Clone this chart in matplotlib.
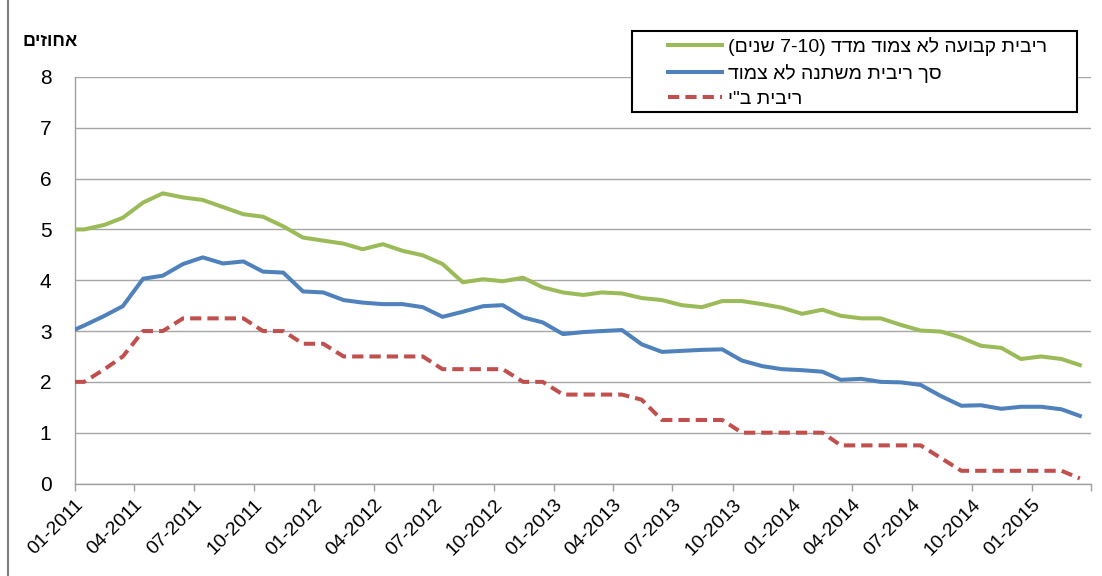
import re
import pandas as pd
import matplotlib
matplotlib.use("Agg")
import matplotlib.pyplot as plt
from matplotlib.patches import Rectangle
from matplotlib.lines import Line2D

plt.rcParams['font.family'] = ['Liberation Sans', 'DejaVu Sans']

# first value sits on 01-01-2011, the rest are monthly averages (mid-month)
dates = pd.to_datetime(['2011-01-01']).append(
    pd.date_range('2011-01-01', '2015-03-01', freq='MS') + pd.Timedelta(days=14))

fixed_rate = [5.00,
              5.00, 5.09, 5.23, 5.53, 5.71, 5.63, 5.58, 5.44, 5.30, 5.25,
              5.06, 4.84, 4.78, 4.72, 4.61, 4.71, 4.58, 4.49, 4.32, 3.96,
              4.02, 3.98, 4.05, 3.86, 3.76, 3.71, 3.76, 3.74, 3.65, 3.61,
              3.51, 3.47, 3.59, 3.59, 3.53, 3.46, 3.34, 3.42, 3.30, 3.25,
              3.25, 3.12, 3.01, 2.99, 2.87, 2.71, 2.67, 2.45, 2.50, 2.45,
              2.33]
variable_rate = [3.03,
                 3.11, 3.30, 3.49, 4.03, 4.09, 4.32, 4.45, 4.33, 4.37, 4.17,
                 4.15, 3.78, 3.76, 3.61, 3.56, 3.53, 3.53, 3.47, 3.28, 3.38,
                 3.49, 3.51, 3.27, 3.17, 2.94, 2.98, 3.00, 3.02, 2.74, 2.59,
                 2.61, 2.63, 2.64, 2.42, 2.31, 2.25, 2.23, 2.20, 2.04, 2.06,
                 2.00, 1.99, 1.94, 1.72, 1.53, 1.54, 1.47, 1.51, 1.51, 1.46,
                 1.33]
boi_rate = [2.00,
            2.00, 2.25, 2.50, 3.00, 3.00, 3.25, 3.25, 3.25, 3.25, 3.00,
            3.00, 2.75, 2.75, 2.50, 2.50, 2.50, 2.50, 2.50, 2.25, 2.25,
            2.25, 2.25, 2.00, 2.00, 1.75, 1.75, 1.75, 1.75, 1.65, 1.25,
            1.25, 1.25, 1.25, 1.00, 1.00, 1.00, 1.00, 1.00, 0.75, 0.75,
            0.75, 0.75, 0.75, 0.50, 0.25, 0.25, 0.25, 0.25, 0.25, 0.25,
            0.10]

labels = ['ריבית קבועה לא צמוד מדד (7-10 שנים)',
          'סך ריבית משתנה לא צמוד',
          'ריבית ב"י']
y_title = 'אחוזים'


def visual(s):
    # matplotlib does no bidi, so put hebrew in display order by hand
    out = s[::-1].translate(str.maketrans('()', ')('))
    return re.sub(r'[0-9][0-9\-]*[0-9]', lambda m: m.group(0)[::-1], out)


W, H = 1102, 576
fig = plt.figure(figsize=(W / 100, H / 100), dpi=100)
ax = fig.add_axes([75 / W, 1 - 483.5 / H, (1091 - 75) / W, (483.5 - 77) / H])

ax.plot(dates, fixed_rate, color='#9BBB59', lw=2.9, label=visual(labels[0]), zorder=3)
ax.plot(dates, variable_rate, color='#4F81BD', lw=2.9, label=visual(labels[1]), zorder=3)
ax.plot(dates, boi_rate, color='#C0504D', lw=2.9, dashes=(2.8, 1.5),
        dash_capstyle='butt', label=visual(labels[2]), zorder=3)

ax.set_ylim(0, 8)
ax.set_yticks(range(0, 9))
ax.set_xlim(pd.Timestamp('2011-01-01'), pd.Timestamp('2015-04-01'))
ticks = pd.date_range('2011-01-01', '2015-04-01', freq='3MS')
ax.set_xticks(ticks)
ax.set_xticklabels([d.strftime('%m-%Y') for d in ticks[:-1]] + [''],
                   rotation=45, ha='right', rotation_mode='anchor', fontsize=14)
ax.tick_params(axis='x', length=5, width=1, color='#a0a0a0', pad=4)
ax.tick_params(axis='y', length=0, pad=17, labelsize=15)

ax.grid(axis='y', color='#a6a6a6', lw=1)
ax.set_axisbelow(True)
for side in ['top', 'right']:
    ax.spines[side].set_visible(False)
for side in ['left', 'bottom']:
    ax.spines[side].set_color('#a0a0a0')
    ax.spines[side].set_linewidth(1)

fig.text(22 / W, 1 - 41 / H, visual(y_title), fontsize=13, fontweight='bold',
         ha='left', va='center')

# legend frame drawn separately so it can be wide like the excel one
fig.add_artist(Rectangle((632 / W, 1 - 112 / H), (1077 - 632) / W, (112 - 31) / H,
                         transform=fig.transFigure, facecolor='white',
                         edgecolor='black', lw=1.5, zorder=4))
fig.legend(loc='upper left', bbox_to_anchor=(664 / W, 1 - 33 / H), frameon=False,
           fontsize=14, handlelength=2.8, handletextpad=0.3, labelspacing=0.4,
           borderaxespad=0, borderpad=0.2)

fig.add_artist(Line2D([8 / W, 8 / W], [0, 1], transform=fig.transFigure,
                      color='#808080', lw=1.5))

fig.savefig('out.png', dpi=100)
